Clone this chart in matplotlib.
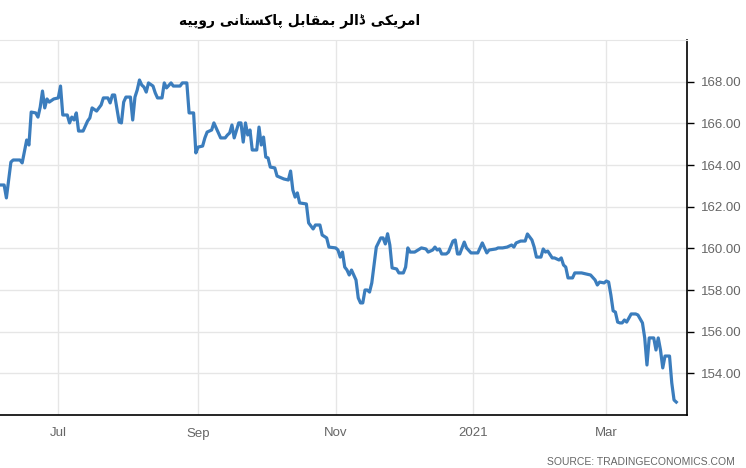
import matplotlib
matplotlib.use("Agg")
import matplotlib.pyplot as plt
from matplotlib import font_manager, ft2font
import pandas as pd

title_text = "امریکی ڈالر بمقابل پاکستانی روپیہ"
source_text = "SOURCE: TRADINGECONOMICS.COM"

dates = [
    "2020-06-05", "2020-06-07", "2020-06-08", "2020-06-10", "2020-06-11", "2020-06-14",
    "2020-06-15", "2020-06-17", "2020-06-18", "2020-06-19", "2020-06-21", "2020-06-22",
    "2020-06-23", "2020-06-24", "2020-06-25", "2020-06-26", "2020-06-27", "2020-06-29",
    "2020-07-01", "2020-07-02", "2020-07-03", "2020-07-05", "2020-07-06", "2020-07-07",
    "2020-07-08", "2020-07-09", "2020-07-10", "2020-07-12", "2020-07-14", "2020-07-15",
    "2020-07-16", "2020-07-18", "2020-07-20", "2020-07-21", "2020-07-23", "2020-07-24",
    "2020-07-25", "2020-07-26", "2020-07-28", "2020-07-29", "2020-07-30", "2020-07-31",
    "2020-08-02", "2020-08-03", "2020-08-04", "2020-08-05", "2020-08-06", "2020-08-07",
    "2020-08-08", "2020-08-09", "2020-08-10", "2020-08-12", "2020-08-13", "2020-08-14",
    "2020-08-16", "2020-08-17", "2020-08-18", "2020-08-20", "2020-08-21", "2020-08-24",
    "2020-08-25", "2020-08-27", "2020-08-28", "2020-08-30", "2020-08-31",
    "2020-09-01", "2020-09-03", "2020-09-04", "2020-09-05", "2020-09-07", "2020-09-08",
    "2020-09-09", "2020-09-11", "2020-09-13", "2020-09-14", "2020-09-15", "2020-09-16",
    "2020-09-17", "2020-09-19", "2020-09-20", "2020-09-21", "2020-09-22", "2020-09-23",
    "2020-09-24", "2020-09-25", "2020-09-27", "2020-09-28", "2020-09-29", "2020-09-30",
    "2020-10-01", "2020-10-02", "2020-10-03", "2020-10-05", "2020-10-06", "2020-10-09",
    "2020-10-11", "2020-10-12", "2020-10-13", "2020-10-14", "2020-10-15", "2020-10-16",
    "2020-10-19", "2020-10-20", "2020-10-22", "2020-10-23", "2020-10-25", "2020-10-26",
    "2020-10-28", "2020-10-29",
    "2020-11-01", "2020-11-02", "2020-11-03", "2020-11-04", "2020-11-05", "2020-11-06",
    "2020-11-07", "2020-11-08", "2020-11-09", "2020-11-10", "2020-11-11", "2020-11-12",
    "2020-11-13", "2020-11-14", "2020-11-15", "2020-11-16", "2020-11-17", "2020-11-19",
    "2020-11-21", "2020-11-22", "2020-11-23", "2020-11-24", "2020-11-25", "2020-11-26",
    "2020-11-28", "2020-11-29",
    "2020-12-01", "2020-12-02", "2020-12-03", "2020-12-04", "2020-12-06", "2020-12-09",
    "2020-12-11", "2020-12-12", "2020-12-14", "2020-12-15", "2020-12-16", "2020-12-17",
    "2020-12-18", "2020-12-20", "2020-12-21", "2020-12-23", "2020-12-24", "2020-12-25",
    "2020-12-26", "2020-12-28", "2020-12-29", "2020-12-31",
    "2021-01-03", "2021-01-05", "2021-01-07", "2021-01-08", "2021-01-11", "2021-01-12",
    "2021-01-14", "2021-01-16", "2021-01-18", "2021-01-19", "2021-01-20", "2021-01-22",
    "2021-01-24", "2021-01-25", "2021-01-27", "2021-01-28", "2021-01-29", "2021-01-31",
    "2021-02-01", "2021-02-02", "2021-02-03", "2021-02-05", "2021-02-06", "2021-02-08",
    "2021-02-09", "2021-02-10", "2021-02-11", "2021-02-12", "2021-02-14", "2021-02-15",
    "2021-02-18", "2021-02-22", "2021-02-24", "2021-02-25", "2021-02-26", "2021-02-28",
    "2021-03-01", "2021-03-02", "2021-03-03", "2021-03-04", "2021-03-05", "2021-03-06",
    "2021-03-07", "2021-03-08", "2021-03-09", "2021-03-10", "2021-03-12", "2021-03-14",
    "2021-03-15", "2021-03-17", "2021-03-18", "2021-03-19", "2021-03-20", "2021-03-22",
    "2021-03-23", "2021-03-24", "2021-03-25", "2021-03-26", "2021-03-27", "2021-03-29",
    "2021-03-30", "2021-03-31", "2021-04-01",
]

values = [
    163.04, 163.04, 162.42, 164.14, 164.24, 164.24,
    164.10, 165.20, 164.96, 166.54, 166.50, 166.30,
    166.78, 167.55, 166.74, 167.17, 167.02, 167.17,
    167.22, 167.79, 166.40, 166.40, 166.02, 166.30,
    166.16, 166.50, 165.63, 165.63, 166.11, 166.26,
    166.74, 166.59, 166.88, 167.22, 167.22, 166.98,
    167.36, 167.36, 166.06, 166.02, 167.02, 167.26,
    167.26, 166.16, 167.26, 167.60, 168.08, 167.84,
    167.74, 167.50, 167.94, 167.79, 167.46, 167.22,
    167.22, 167.94, 167.70, 167.94, 167.79, 167.79,
    167.94, 167.94, 166.50, 166.50, 164.58,
    164.86, 164.91, 165.30, 165.58, 165.68, 166.02,
    165.78, 165.30, 165.30, 165.44, 165.54, 165.92,
    165.30, 166.02, 166.02, 165.10, 166.02, 165.44,
    165.68, 164.72, 164.72, 165.82, 164.96, 165.34,
    164.38, 164.34, 163.90, 163.86, 163.47, 163.33,
    163.28, 163.71, 162.80, 162.46, 162.66, 162.18,
    162.13, 161.22, 160.93, 161.12, 161.12, 160.64,
    160.50, 160.06,
    160.02, 159.92, 159.58, 159.82, 159.10, 158.96,
    158.72, 158.96, 158.72, 158.48, 157.62, 157.38,
    157.38, 158.00, 158.00, 157.90, 158.34, 160.06,
    160.50, 160.50, 160.21, 160.70, 160.16, 159.06,
    159.01, 158.82,
    158.82, 159.10, 160.02, 159.82, 159.82, 160.02,
    159.97, 159.82, 159.92, 160.06, 159.92, 159.97,
    159.73, 159.73, 159.82, 160.35, 160.40, 159.73,
    159.73, 160.30, 160.02, 159.78,
    159.78, 160.26, 159.78, 159.92, 159.97, 160.02,
    160.02, 160.06, 160.16, 160.06, 160.26, 160.35,
    160.35, 160.69, 160.40, 160.06, 159.58, 159.58,
    159.97, 159.82, 159.87, 159.54, 159.54, 159.44,
    159.54, 159.20, 159.10, 158.58, 158.58, 158.82,
    158.82, 158.72, 158.48, 158.24, 158.38, 158.34,
    158.43, 158.38, 157.76, 157.00, 156.94, 156.46,
    156.42, 156.42, 156.56, 156.46, 156.85, 156.85,
    156.80, 156.42, 155.70, 154.40, 155.70, 155.70,
    155.12, 155.70, 155.12, 154.26, 154.83, 154.83,
    153.54, 152.72, 152.62,
]

x_tick_dates = ["2020-07-01", "2020-09-01", "2020-11-01", "2021-01-01", "2021-03-01"]
x_tick_labels = ["Jul", "Sep", "Nov", "2021", "Mar"]
y_ticks = [154, 156, 158, 160, 162, 164, 166, 168]

# --- minimal Arabic/Urdu contextual shaping (matplotlib has no shaper) ---
# char: (isolated, final, initial, medial); None for right-joining letters
FORMS = {
    "ا": ("\uFE8D", "\uFE8E", None, None),
    "م": ("\uFEE1", "\uFEE2", "\uFEE3", "\uFEE4"),
    "ر": ("\uFEAD", "\uFEAE", None, None),
    "ی": ("\uFBFC", "\uFBFD", "\uFBFE", "\uFBFF"),
    "ک": ("\uFB8E", "\uFB8F", "\uFB90", "\uFB91"),
    "ڈ": ("\uFB88", "\uFB89", None, None),
    "ل": ("\uFEDD", "\uFEDE", "\uFEDF", "\uFEE0"),
    "ب": ("\uFE8F", "\uFE90", "\uFE91", "\uFE92"),
    "ق": ("\uFED5", "\uFED6", "\uFED7", "\uFED8"),
    "پ": ("\uFB56", "\uFB57", "\uFB58", "\uFB59"),
    "س": ("\uFEB1", "\uFEB2", "\uFEB3", "\uFEB4"),
    "ت": ("\uFE95", "\uFE96", "\uFE97", "\uFE98"),
    "ن": ("\uFEE5", "\uFEE6", "\uFEE7", "\uFEE8"),
    "و": ("\uFEED", "\uFEEE", None, None),
    "ہ": ("\uFBA6", "\uFBA7", "\uFBA8", "\uFBA9"),
}
# same-looking Arabic heh forms, used only if the font lacks the Urdu heh-goal forms
HEH_FALLBACK = {"\uFBA6": "\uFEE9", "\uFBA7": "\uFEEA", "\uFBA8": "\uFEEB", "\uFBA9": "\uFEEC"}

title_props = font_manager.FontProperties(family="DejaVu Sans", weight="bold")
title_font = ft2font.FT2Font(font_manager.findfont(title_props))


def shape_rtl(text):
    out = []
    n = len(text)
    for i, ch in enumerate(text):
        if ch not in FORMS:
            out.append(ch)
            continue
        prev = text[i - 1] if i > 0 else None
        nxt = text[i + 1] if i + 1 < n else None
        join_prev = prev in FORMS and FORMS[prev][2] is not None
        join_next = nxt in FORMS and FORMS[ch][2] is not None
        iso, fin, ini, med = FORMS[ch]
        if join_prev and join_next:
            g = med
        elif join_prev:
            g = fin
        elif join_next:
            g = ini
        else:
            g = iso
        if title_font.get_char_index(ord(g)) == 0 and g in HEH_FALLBACK:
            g = HEH_FALLBACK[g]
        out.append(g)
    return "".join(out)[::-1]


plt.rcParams["font.family"] = ["Liberation Sans", "DejaVu Sans"]

fig = plt.figure(figsize=(7.46, 4.68), dpi=100)
ax = fig.add_axes([0.0, 1 - 415 / 468, 687 / 746, (415 - 40) / 468])

x = pd.to_datetime(dates)
ax.plot(x, values, color="#3b7dbd", linewidth=2.3, solid_joinstyle="round")

ax.set_xlim(pd.Timestamp("2020-06-05 04:00"), pd.Timestamp("2021-04-05 18:00"))
ax.set_ylim(152, 170)

ax.yaxis.tick_right()
ax.set_yticks(y_ticks)
ax.set_yticklabels([f"{v:.2f}" for v in y_ticks])
ax.set_xticks(pd.to_datetime(x_tick_dates))
ax.set_xticklabels(x_tick_labels)

ax.tick_params(axis="y", which="both", direction="out", length=5, width=1,
               color="#000000", labelcolor="#666666", labelsize=9.5, pad=5)
ax.tick_params(axis="x", length=0, labelcolor="#666666", labelsize=9.5, pad=9)

ax.grid(True, color="#e6e6e6", linewidth=1)
ax.set_axisbelow(True)

ax.spines["left"].set_visible(False)
ax.spines["top"].set_color("#e6e6e6")
ax.spines["right"].set_color("#000000")
ax.spines["bottom"].set_color("#000000")
ax.spines["right"].set_linewidth(1.2)
ax.spines["bottom"].set_linewidth(1.2)

fig.text(300 / 746, 1 - 21 / 468, shape_rtl(title_text), ha="center", va="center",
         fontsize=10, fontweight="bold", color="#000000",
         family=["DejaVu Sans"])
fig.text(735 / 746, 1 - 462 / 468, source_text, ha="right", va="center",
         fontsize=7.5, color="#666666")

fig.savefig("out.png", dpi=100)
